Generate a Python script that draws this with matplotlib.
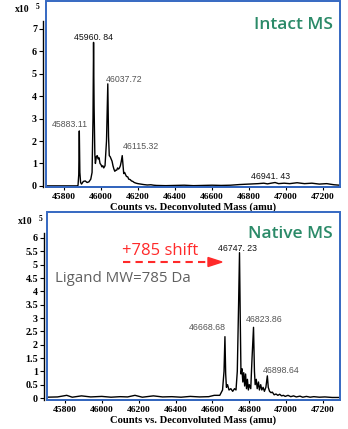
import matplotlib
matplotlib.use("Agg")
import matplotlib.pyplot as plt
from matplotlib.patches import Rectangle, Polygon
from matplotlib.lines import Line2D

# ---------------- data (intensity in x10^5 counts) ----------------
intact_mass = [45700, 45870, 45876, 45880, 45883, 45886, 45890, 45895, 45905, 45915,
               45925, 45935, 45945, 45952, 45957, 45960, 45963, 45967, 45970, 45975,
               45980, 45985, 45990, 45995, 46000, 46005, 46010, 46015, 46022, 46030,
               46037, 46041, 46045, 46050, 46055, 46060, 46065, 46070, 46075, 46080,
               46085, 46090, 46095, 46100, 46105, 46110, 46115, 46119, 46123, 46128,
               46133, 46138, 46145, 46150, 46158, 46165, 46172, 46180, 46190, 46200,
               46215, 46230, 46250, 46270, 46285, 46300, 46350, 46400, 46450, 46500,
               46550, 46600, 46650, 46700, 46750, 46800, 46850, 46880, 46900, 46920,
               46941, 46960, 46990, 47020, 47060, 47100, 47140, 47180, 47220, 47260, 47290]
intact_int = [0.0, 0.0, 0.02, 0.5, 2.45, 0.6, 0.15, 0.08, 0.2, 0.22,
              0.15, 0.18, 0.3, 0.6, 3.0, 6.4, 3.5, 1.4, 1.0, 1.3,
              1.35, 1.2, 1.25, 1.0, 0.95, 0.85, 0.9, 0.8, 0.9, 2.0,
              4.55, 2.2, 1.35, 1.3, 1.2, 1.1, 0.9, 0.75, 0.65, 0.7,
              0.7, 0.8, 0.75, 0.8, 0.9, 1.1, 1.35, 0.95, 0.55, 0.6,
              0.5, 0.42, 0.4, 0.3, 0.28, 0.22, 0.2, 0.15, 0.12, 0.1,
              0.08, 0.06, 0.04, 0.05, 0.03, 0.02, 0.01, 0.02, 0.03, 0.01,
              0.02, 0.03, 0.02, 0.03, 0.06, 0.08, 0.1, 0.12, 0.09, 0.12,
              0.15, 0.1, 0.12, 0.1, 0.14, 0.1, 0.12, 0.08, 0.1, 0.05, 0.03]

native_mass = [45700, 45760, 45810, 45840, 45890, 45940, 46000, 46050, 46100, 46140,
               46180, 46220, 46280, 46330, 46380, 46430, 46480, 46530, 46580, 46610,
               46640, 46655, 46663, 46668, 46672, 46676, 46682, 46690, 46700, 46710,
               46720, 46728, 46735, 46742, 46747, 46751, 46755, 46760, 46765, 46770,
               46775, 46780, 46785, 46790, 46795, 46800, 46808, 46815, 46823, 46828,
               46832, 46838, 46843, 46850, 46855, 46862, 46868, 46875, 46882, 46890,
               46898, 46903, 46910, 46918, 46925, 46935, 46945, 46955, 46965, 46975,
               46985, 46995, 47010, 47025, 47040, 47055, 47075, 47090, 47110, 47130,
               47150, 47180, 47210, 47250, 47290]
native_int = [0.03, 0.04, 0.1, 0.03, 0.08, 0.04, 0.06, 0.03, 0.05, 0.04,
              0.1, 0.03, 0.08, 0.04, 0.05, 0.03, 0.06, 0.04, 0.05, 0.1,
              0.1, 0.3, 1.0, 2.3, 0.9, 0.4, 0.5, 0.3, 0.35, 0.25,
              0.35, 0.3, 1.0, 3.5, 5.45, 3.0, 0.9, 1.1, 0.6, 0.95,
              0.45, 0.9, 0.35, 0.7, 0.3, 0.5, 0.35, 1.5, 2.65, 1.0,
              0.5, 0.7, 0.35, 0.6, 0.3, 0.5, 0.3, 0.4, 0.25, 0.4,
              0.83, 0.4, 0.25, 0.2, 0.22, 0.12, 0.15, 0.1, 0.14, 0.08,
              0.1, 0.06, 0.1, 0.05, 0.08, 0.04, 0.07, 0.03, 0.06, 0.03,
              0.05, 0.03, 0.04, 0.02, 0.02]

intact_labels = ["45883.11", "45960. 84", "46037.72", "46115.32", "46941. 43"]
intact_lab_mass = [45883, 45960, 46037, 46115, 46941]
intact_lab_int = [2.45, 6.4, 4.55, 1.35, 0.15]
native_labels = ["46668.68", "46747. 23", "46823.86", "46898.64"]
native_lab_mass = [46668, 46747, 46823, 46898]
native_lab_int = [2.3, 5.45, 2.65, 0.83]

xticks = [45800, 46000, 46200, 46400, 46600, 46800, 47000, 47200]
intact_yticks = [0, 1, 2, 3, 4, 5, 6, 7]
native_yticks = [0, 0.5, 1, 1.5, 2, 2.5, 3, 3.5, 4, 4.5, 5, 5.5, 6]

# ---------------- styling ----------------
W, H = 348, 429
BLUE = "#3568c2"
GREEN = "#2b8a68"
GREY = "#555555"
serif_bold = dict(family="Liberation Serif", weight="bold")

fig = plt.figure(figsize=(W / 100, H / 100), dpi=100)


def fx(px):
    return px / W


def fy(py):
    return 1 - py / H


def style_axes(ax, yticks, ylim, ytick_labels, spine_top):
    for s in ["top", "right"]:
        ax.spines[s].set_visible(False)
    ax.spines["left"].set_position(("outward", 2))
    ax.set_xlim(45703, 47292)
    ax.set_ylim(*ylim)
    ax.spines["left"].set_bounds(ylim[0], spine_top)
    ax.spines["left"].set_color("black")
    ax.spines["left"].set_linewidth(1.0)
    ax.spines["bottom"].set_color("black")
    ax.spines["bottom"].set_linewidth(1.2)
    ax.set_xticks(xticks)
    ax.set_yticks(yticks)
    ax.set_yticklabels(ytick_labels, fontsize=7.2, **serif_bold)
    ax.set_xticklabels([str(t) for t in xticks], fontsize=6.8, **serif_bold)
    ax.tick_params(axis="y", length=3, width=0.8, pad=1.5, direction="out")
    ax.tick_params(axis="x", length=2, width=0.8, pad=2, direction="out")
    ax.add_patch(Rectangle((0, 0), 1, 1, transform=ax.transAxes, fill=False,
                           edgecolor=BLUE, lw=1.4, clip_on=False, zorder=5))
    ax.set_xlabel("Counts vs. Deconvoluted Mass (amu)", fontsize=7.6, labelpad=1,
                  **serif_bold)


# ---------------- top panel ----------------
ax1 = fig.add_axes([fx(46), fy(187), fx(340) - fx(46), fy(0.7) - fy(187)])
ax1.plot(intact_mass, intact_int, color="black", lw=1.0)
style_axes(ax1, intact_yticks, (-0.05, 8.26), [str(t) for t in intact_yticks], 7.37)

intact_offsets = [(-9, 6), (0, 5), (16, 4), (19, 9), (-4, 6)]
for i, (lab, m, v) in enumerate(zip(intact_labels, intact_lab_mass, intact_lab_int)):
    col = "#111111" if ". " in lab else GREY
    ax1.annotate(lab, (m, v), xytext=intact_offsets[i], textcoords="offset pixels",
                 ha="center", va="center", fontsize=6.3, color=col,
                 family="Liberation Sans")

fig.text(fx(333), fy(25), "Intact MS", ha="right", va="center", color=GREEN,
         fontsize=12.5, family="Open Sans", weight="semibold")
fig.text(fx(15), fy(10), "x10", ha="left", va="center", fontsize=7, **serif_bold)
fig.text(fx(36), fy(7), "5", ha="left", va="center", fontsize=5.5, **serif_bold)

# ---------------- bottom panel ----------------
ax2 = fig.add_axes([fx(47), fy(400), fx(340) - fx(47), fy(212) - fy(400)])
ax2.plot(native_mass, native_int, color="black", lw=1.0)
native_tl = ["%g" % t for t in native_yticks]
style_axes(ax2, native_yticks, (-0.075, 6.975), native_tl, 6.19)

native_offsets = [(-18, 9), (-2, 4), (11, 8), (14, 5)]
for i, (lab, m, v) in enumerate(zip(native_labels, native_lab_mass, native_lab_int)):
    col = "#111111" if ". " in lab else GREY
    ax2.annotate(lab, (m, v), xytext=native_offsets[i], textcoords="offset pixels",
                 ha="center", va="center", fontsize=6.3, color=col,
                 family="Liberation Sans")

fig.text(fx(333), fy(234), "Native MS", ha="right", va="center", color=GREEN,
         fontsize=12.5, family="Open Sans", weight="semibold")
fig.text(fx(18), fy(222), "x10", ha="left", va="center", fontsize=7, **serif_bold)
fig.text(fx(39), fy(219), "5", ha="left", va="center", fontsize=5.5, **serif_bold)

fig.text(fx(122), fy(251), "+785 shift", ha="left", va="center", color="#ff2a2a",
         fontsize=12, family="Open Sans")
fig.text(fx(55), fy(278), "Ligand MW=785 Da", ha="left", va="center", color="#606060",
         fontsize=10.8, family="Open Sans")

fig.add_artist(Line2D([fx(123), fx(210)], [fy(262), fy(262)], color="#ff2a2a",
                      lw=1.5, linestyle=(0, (3.5, 2.5))))
fig.add_artist(Polygon([[fx(208), fy(257.5)], [fx(222), fy(262)], [fx(208), fy(266.5)]],
                       closed=True, color="#ff2a2a", transform=fig.transFigure))

fig.savefig("out.png", dpi=100)
